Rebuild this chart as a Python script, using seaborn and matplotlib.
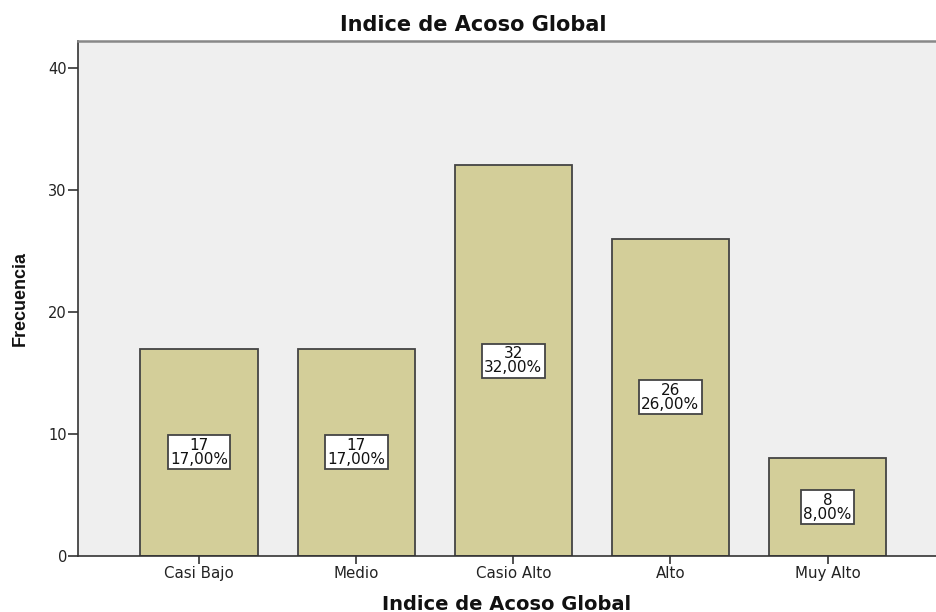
import numpy as np
import pandas as pd
import seaborn as sns
from matplotlib import pyplot as plt

categorias = ["Casi Bajo", "Medio", "Casio Alto", "Alto", "Muy Alto"]
frecuencias = [17, 17, 32, 26, 8]
porcentajes = ["17,00%", "17,00%", "32,00%", "26,00%", "8,00%"]

df = pd.DataFrame({"cat": categorias, "n": frecuencias})

sns.set_style("white")
plt.rcParams['font.family'] = ['DejaVu Sans']

fig = plt.figure(figsize=(9.36, 6.12), dpi=100)
ax = fig.add_axes([78/936, 1 - 556/612, (936 - 78)/936, (556 - 41)/612])
ax.set_facecolor('#EFEFEF')

sns.barplot(data=df, x="cat", y="n", color='#D3CE99', saturation=1,
            width=0.745, edgecolor='#444444', linewidth=1.3, ax=ax)

# etiquetas dentro de las barras
for i, (n, p) in enumerate(zip(frecuencias, porcentajes)):
    ax.text(i, n / 2, f"{n}\n{p}", ha='center', va='center', fontsize=11,
            linespacing=0.92, color='#111111',
            bbox=dict(boxstyle='square,pad=0.16', fc='white', ec='#444444', lw=1.3))

ax.set_xlim(-0.77, 4.69)
ax.set_ylim(0, 42.2)
ax.set_yticks([0, 10, 20, 30, 40])
ax.tick_params(axis='y', labelsize=10.5, length=7, width=1.2, color='#333333',
               left=True, pad=1, labelcolor='#222222')
ax.tick_params(axis='x', labelsize=10.8, length=6, width=1.2, color='#333333',
               bottom=True, pad=1, labelcolor='#222222')

ax.spines['top'].set_color('#888888')
ax.spines['top'].set_linewidth(1.8)
ax.spines['right'].set_visible(False)
for s in ['left', 'bottom']:
    ax.spines[s].set_color('#333333')
    ax.spines[s].set_linewidth(1.2)

ax.set_xlabel("Indice de Acoso Global", fontsize=14, fontweight='bold', labelpad=10,
              color='#111111')
ax.set_ylabel("Frecuencia", fontsize=13, fontweight='bold', labelpad=14,
              family='Liberation Sans', color='#111111')
fig.text(473/936, 1 - 25/612, "Indice de Acoso Global", fontsize=15,
         fontweight='bold', ha='center', va='center', color='#111111')

plt.savefig('out.png', dpi=100)
